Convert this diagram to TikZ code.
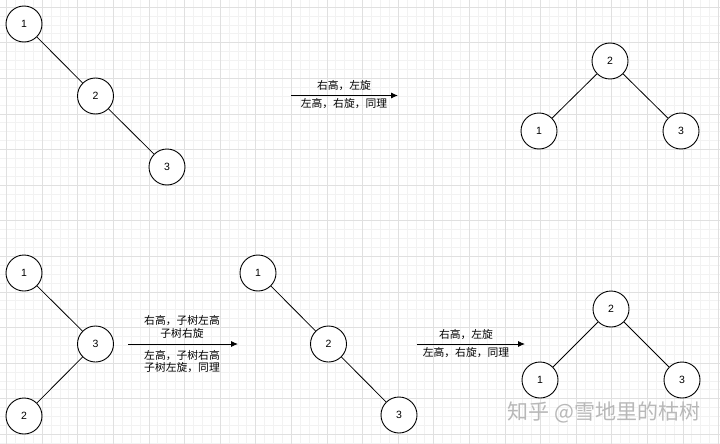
\documentclass[tikz,border=0pt]{standalone}
\usepackage{fontspec}
\setmainfont{Liberation Sans}
\newfontfamily\cjk{Noto Sans CJK SC}
\usetikzlibrary{arrows.meta}
\begin{document}
\begin{tikzpicture}[x=1pt,y=-1pt,
  tnode/.style={circle,draw=black,line width=0.9pt,fill=white,minimum size=36pt,inner sep=0pt,font=\fontsize{10.5}{12}\selectfont},
  edge/.style={draw=black,line width=0.8pt},
  arr/.style={draw=black,line width=0.9pt,-{Latex[length=7pt,width=6pt]}},
  lbl/.style={font=\cjk\fontsize{10.8}{12.8}\selectfont,align=center,inner sep=0pt}
]
\fill[white] (0,0) rectangle (720,444);
\useasboundingbox (0,0) rectangle (720,444);
% minor grid
\foreach \i in {0,...,81} {
  \draw[black!5,line width=0.5pt] ({6.4+(\i-1)*8.9},0) -- ({6.4+(\i-1)*8.9},444);
}
\foreach \i in {0,...,51} {
  \draw[black!5,line width=0.5pt] (0,{7+(\i-1)*8.9}) -- (720,{7+(\i-1)*8.9});
}
% major grid
\foreach \i in {0,...,20} {
  \draw[black!12,line width=0.6pt] ({6.4+\i*35.6},0) -- ({6.4+\i*35.6},444);
}
\foreach \i in {0,...,12} {
  \draw[black!12,line width=0.6pt] (0,{7+\i*35.6}) -- (720,{7+\i*35.6});
}

% top-left chain
\node[tnode] (a1) at (24,24) {1};
\node[tnode] (a2) at (95.5,96) {2};
\node[tnode] (a3) at (167,167) {3};
\draw[edge] (a1) -- (a2);
\draw[edge] (a2) -- (a3);

% top arrow
\coordinate (t0) at (291,95.5);
\coordinate (t1) at (398,95.5);
\draw[arr] (t0) -- (t1);
\node[lbl] (tl1) at (344,86) {右高，左旋};
\node[lbl] (tl2) at (344,104) {左高，右旋，同理};

% top-right balanced
\node[tnode] (b2) at (610,61) {2};
\node[tnode] (b1) at (539,131) {1};
\node[tnode] (b3) at (681,131) {3};
\draw[edge] (b2) -- (b1);
\draw[edge] (b2) -- (b3);

% bottom-left
\node[tnode] (c1) at (24,273) {1};
\node[tnode] (c3) at (95.5,344) {3};
\node[tnode] (c2) at (24,416) {2};
\draw[edge] (c1) -- (c3);
\draw[edge] (c3) -- (c2);

% middle arrow
\coordinate (m0) at (128,344);
\coordinate (m1) at (238,344);
\draw[arr] (m0) -- (m1);
\node[lbl] (ml1) at (182,327) {右高，子树左高\\子树右旋};
\node[lbl] (ml2) at (182,361.5) {左高，子树右高\\子树左旋，同理};

% middle chain
\node[tnode] (d1) at (258,273) {1};
\node[tnode] (d2) at (328.5,344) {2};
\node[tnode] (d3) at (399,415) {3};
\draw[edge] (d1) -- (d2);
\draw[edge] (d2) -- (d3);

% right arrow
\coordinate (r0) at (417,344);
\coordinate (r1) at (525,344);
\draw[arr] (r0) -- (r1);
\node[lbl] (rl1) at (466,335) {右高，左旋};
\node[lbl] (rl2) at (466,353) {左高，右旋，同理};

% bottom-right balanced
\node[tnode] (e2) at (611,309) {2};
\node[tnode] (e1) at (540,380) {1};
\node[tnode] (e3) at (682,380) {3};
\draw[edge] (e2) -- (e1);
\draw[edge] (e2) -- (e3);

% watermark
\node[font=\cjk\fontsize{21}{24}\selectfont,text=black!28,inner sep=0pt] (wm) at (604,412) {知乎 @雪地里的枯树};
\end{tikzpicture}
\end{document}
